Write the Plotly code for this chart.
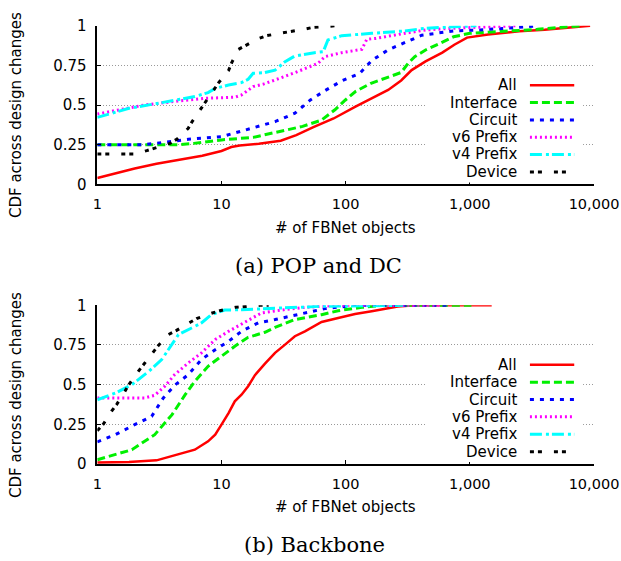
import plotly.graph_objects as go

series_names = ["All", "Interface", "Circuit", "v6 Prefix", "v4 Prefix", "Device"]
series_colors = ["#ff0000", "#00f000", "#0000ff", "#ff00ff", "#00ffff", "#000000"]
series_dash = ["solid", "8px,4px", "4px,6px", "2px,3px", "12px,4px,3px,3px", "4px,4px,4px,12px"]
series_width = [2.5, 3, 3, 3, 3, 3]

# ---- (a) POP and DC ----
a_all_x = [1, 2, 3, 5, 7, 10, 12, 14, 20, 30, 40, 55, 80, 120, 160, 220, 280, 340, 440, 600, 750, 950, 1400, 2500, 4000, 6000, 9300]
a_all_y = [0.04, 0.1, 0.13, 0.16, 0.18, 0.21, 0.235, 0.245, 0.255, 0.275, 0.31, 0.36, 0.415, 0.49, 0.54, 0.595, 0.655, 0.72, 0.775, 0.83, 0.88, 0.925, 0.945, 0.965, 0.975, 0.985, 1.0]

a_int_x = [1, 2, 4.5, 6, 10, 18, 30, 45, 64, 82, 99, 120, 160, 220, 280, 320, 360, 400, 440, 575, 740, 1000, 1900, 3500, 6400, 8000]
a_int_y = [0.25, 0.25, 0.25, 0.258, 0.28, 0.296, 0.335, 0.365, 0.405, 0.47, 0.53, 0.585, 0.637, 0.675, 0.705, 0.765, 0.805, 0.826, 0.847, 0.889, 0.93, 0.952, 0.963, 0.977, 0.994, 1.0]

a_cir_x = [1, 2.4, 3.3, 5.4, 10, 13.6, 19, 27, 39, 52, 68, 93, 130, 162, 219, 300, 410, 740, 1200, 2500, 3600]
a_cir_y = [0.25, 0.25, 0.263, 0.284, 0.30, 0.328, 0.362, 0.395, 0.448, 0.532, 0.59, 0.652, 0.70, 0.78, 0.847, 0.893, 0.94, 0.967, 0.973, 0.99, 1.0]

a_v6_x = [1, 2.4, 4.5, 7.4, 12.8, 14.5, 18, 22, 27, 39, 60, 68, 93, 135, 148, 175, 300, 440, 740, 1400, 2400]
a_v6_y = [0.443, 0.50, 0.525, 0.542, 0.549, 0.563, 0.616, 0.633, 0.658, 0.704, 0.763, 0.805, 0.83, 0.851, 0.914, 0.92, 0.952, 0.973, 0.984, 0.994, 1.0]

a_v4_x = [1, 1.8, 3.3, 6.1, 7.8, 8.9, 11.4, 14.5, 16.4, 18, 22, 27, 32.5, 39, 56, 66, 72, 93, 162, 300, 440, 1130]
a_v4_y = [0.422, 0.479, 0.515, 0.553, 0.578, 0.605, 0.626, 0.641, 0.662, 0.70, 0.704, 0.72, 0.773, 0.809, 0.83, 0.836, 0.91, 0.937, 0.952, 0.967, 0.984, 1.0]

a_dev_x = [1, 2.0, 2.5, 2.9, 3.85, 4.4, 5.4, 5.8, 6.9, 7.5, 9.5, 11.4, 12.1, 13.7, 15.6, 19.8, 23, 30.5, 34.5, 47, 55, 72, 85]
a_dev_y = [0.191, 0.191, 0.212, 0.227, 0.258, 0.286, 0.353, 0.395, 0.479, 0.521, 0.641, 0.717, 0.767, 0.851, 0.876, 0.918, 0.937, 0.952, 0.96, 0.979, 0.99, 0.998, 1.0]

# ---- (b) Backbone ----
b_all_x = [1, 1.8, 3, 4.5, 6.1, 7.8, 8.9, 10, 11.4, 12.8, 14.5, 16.4, 18.6, 22.4, 27, 32.5, 39, 47, 64, 87, 119, 162, 219, 263, 361, 1500]
b_all_y = [0.01, 0.013, 0.023, 0.059, 0.09, 0.143, 0.185, 0.248, 0.321, 0.395, 0.437, 0.49, 0.56, 0.632, 0.70, 0.752, 0.805, 0.836, 0.895, 0.92, 0.945, 0.962, 0.983, 0.992, 1.0, 1.0]

b_int_x = [1, 1.9, 2.9, 4.0, 5.1, 6.1, 7.8, 10, 12.8, 16.4, 22.4, 27, 39, 64, 87, 135, 195, 1030]
b_int_y = [0.027, 0.09, 0.185, 0.311, 0.437, 0.521, 0.616, 0.679, 0.742, 0.798, 0.83, 0.861, 0.91, 0.941, 0.966, 0.987, 1.0, 1.0]

b_cir_x = [1, 1.4, 2.0, 2.74, 3.4, 4.2, 5.4, 6.9, 8.9, 11.4, 14.5, 19.8, 27, 47, 68, 119, 700]
b_cir_y = [0.139, 0.185, 0.248, 0.30, 0.416, 0.496, 0.563, 0.658, 0.72, 0.773, 0.836, 0.89, 0.91, 0.952, 0.979, 1.0, 1.0]

b_v6_x = [1, 2.4, 2.9, 3.5, 4.2, 5.4, 6.9, 8.9, 11.4, 14.5, 21, 32.5, 47, 87, 575]
b_v6_y = [0.416, 0.416, 0.433, 0.49, 0.563, 0.637, 0.70, 0.784, 0.836, 0.882, 0.952, 0.973, 0.987, 1.0, 1.0]

b_v4_x = [1, 1.4, 1.9, 2.6, 3.3, 4.5, 5.75, 6.9, 8.3, 10.6, 14.5, 19, 34.5, 64, 290]
b_v4_y = [0.405, 0.447, 0.50, 0.584, 0.658, 0.815, 0.857, 0.889, 0.941, 0.97, 0.972, 0.976, 0.985, 0.994, 1.0]

b_dev_x = [1, 1.12, 1.3, 1.43, 1.67, 1.78, 2.14, 2.35, 2.82, 3.1, 3.73, 4.35, 5.6, 6.3, 8.3, 9.7, 12.9, 15, 20.4, 24]
b_dev_y = [0.21, 0.252, 0.332, 0.374, 0.458, 0.496, 0.584, 0.626, 0.71, 0.746, 0.815, 0.842, 0.893, 0.916, 0.95, 0.966, 0.987, 0.992, 1.0, 1.0]

x_tickvals = [1, 10, 100, 1000, 10000]
x_ticktext = ["1", "10", "100", "1,000", "10,000"]
y_tickvals = [0, 0.25, 0.5, 0.75, 1]
y_ticktext = ["0", "0.25", "0.5", "0.75", "1"]

x_title = "# of FBNet objects"
y_title = "CDF across design changes"
captions = ["(a) POP and DC", "(b) Backbone"]

panels = [
    ([a_all_x, a_int_x, a_cir_x, a_v6_x, a_v4_x, a_dev_x],
     [a_all_y, a_int_y, a_cir_y, a_v6_y, a_v4_y, a_dev_y]),
    ([b_all_x, b_int_x, b_cir_x, b_v6_x, b_v4_x, b_dev_x],
     [b_all_y, b_int_y, b_cir_y, b_v6_y, b_v4_y, b_dev_y]),
]

W, H = 621, 561
SANS = "DejaVu Sans"
SERIF = "DejaVu Serif"

fig = go.Figure()

for p, (xs, ys) in enumerate(panels):
    xa = "x" if p == 0 else "x2"
    ya = "y" if p == 0 else "y2"
    for i in range(6):
        fig.add_trace(go.Scatter(
            x=xs[i], y=ys[i], mode="lines", name=series_names[i],
            line=dict(color=series_colors[i], width=series_width[i], dash=series_dash[i]),
            xaxis=xa, yaxis=ya, showlegend=False, cliponaxis=False,
        ))

x_dom = [97.3 / W, 594 / W]
y_doms = [[(H - 184.3) / H, (H - 25.7) / H], [(H - 464) / H, (H - 305.3) / H]]

axis_font = dict(family=SANS, size=15, color="black")
xtick_font = dict(family=SANS, size=14.5, color="black")
xcommon = dict(type="log", range=[0, 4], domain=x_dom, tickvals=x_tickvals, ticktext=x_ticktext,
               ticks="inside", ticklen=4, tickcolor="black", showgrid=False, showline=True,
               linecolor="black", linewidth=1.5, zeroline=False, tickfont=xtick_font,
               ticklabelstandoff=6, automargin=False)
ycommon = dict(range=[0, 1], tickvals=y_tickvals, ticktext=y_ticktext,
               ticks="inside", ticklen=4, tickcolor="black", showgrid=True,
               gridcolor="#999999", griddash="1px,2px", gridwidth=1, showline=True,
               linecolor="black", linewidth=1.5, zeroline=False, tickfont=axis_font,
               ticklabelstandoff=6, automargin=False)

fig.update_layout(
    xaxis=dict(anchor="y", **xcommon),
    yaxis=dict(anchor="x", domain=y_doms[0], **ycommon),
    xaxis2=dict(anchor="y2", **xcommon),
    yaxis2=dict(anchor="x2", domain=y_doms[1], **ycommon),
)

annotations = []
shapes = []
legend_rows = [0.625, 0.515, 0.406, 0.297, 0.188, 0.077]
xt_pos = [228, 507]
yt_pos = [115, 395]
cap_pos = [(318, 265.7), (314, 545)]
for p in range(2):
    xr = "x domain" if p == 0 else "x2 domain"
    yr = "y domain" if p == 0 else "y2 domain"
    annotations.append(dict(text=x_title, xref="paper", yref="paper", x=345.8 / W, y=(H - xt_pos[p]) / H,
                            xanchor="center", yanchor="middle", showarrow=False, font=axis_font))
    annotations.append(dict(text=y_title, xref="paper", yref="paper", x=16 / W, y=(H - yt_pos[p]) / H,
                            xanchor="center", yanchor="middle", textangle=-90, showarrow=False, font=axis_font))
    annotations.append(dict(text=captions[p], xref="paper", yref="paper", x=cap_pos[p][0] / W,
                            y=(H - cap_pos[p][1]) / H, xanchor="center", yanchor="middle", showarrow=False,
                            font=dict(family=SERIF, size=21, color="black")))
    # legend box (opaque, hides gridlines behind the key)
    shapes.append(dict(type="rect", xref=xr, yref=yr, x0=0.663, x1=0.978, y0=0.012, y1=0.69,
                       fillcolor="white", line=dict(width=0), layer="above"))
    for i in range(6):
        annotations.append(dict(text=series_names[i], xref=xr, yref=yr, x=0.8496, y=legend_rows[i],
                                xanchor="right", yanchor="middle", showarrow=False, font=axis_font))
        shapes.append(dict(type="line", xref=xr, yref=yr, x0=0.871, x1=0.9602,
                           y0=legend_rows[i], y1=legend_rows[i], layer="above",
                           line=dict(color=series_colors[i], width=series_width[i], dash=series_dash[i])))

fig.update_layout(
    width=W, height=H, margin=dict(l=0, r=0, t=0, b=0, autoexpand=False),
    paper_bgcolor="white", plot_bgcolor="white",
    annotations=annotations, shapes=shapes, showlegend=False, hovermode=False,
)

fig.write_html("out.html", config={"displayModeBar": False},
               post_script="document.body.style.margin='0';document.body.style.overflow='hidden';")
